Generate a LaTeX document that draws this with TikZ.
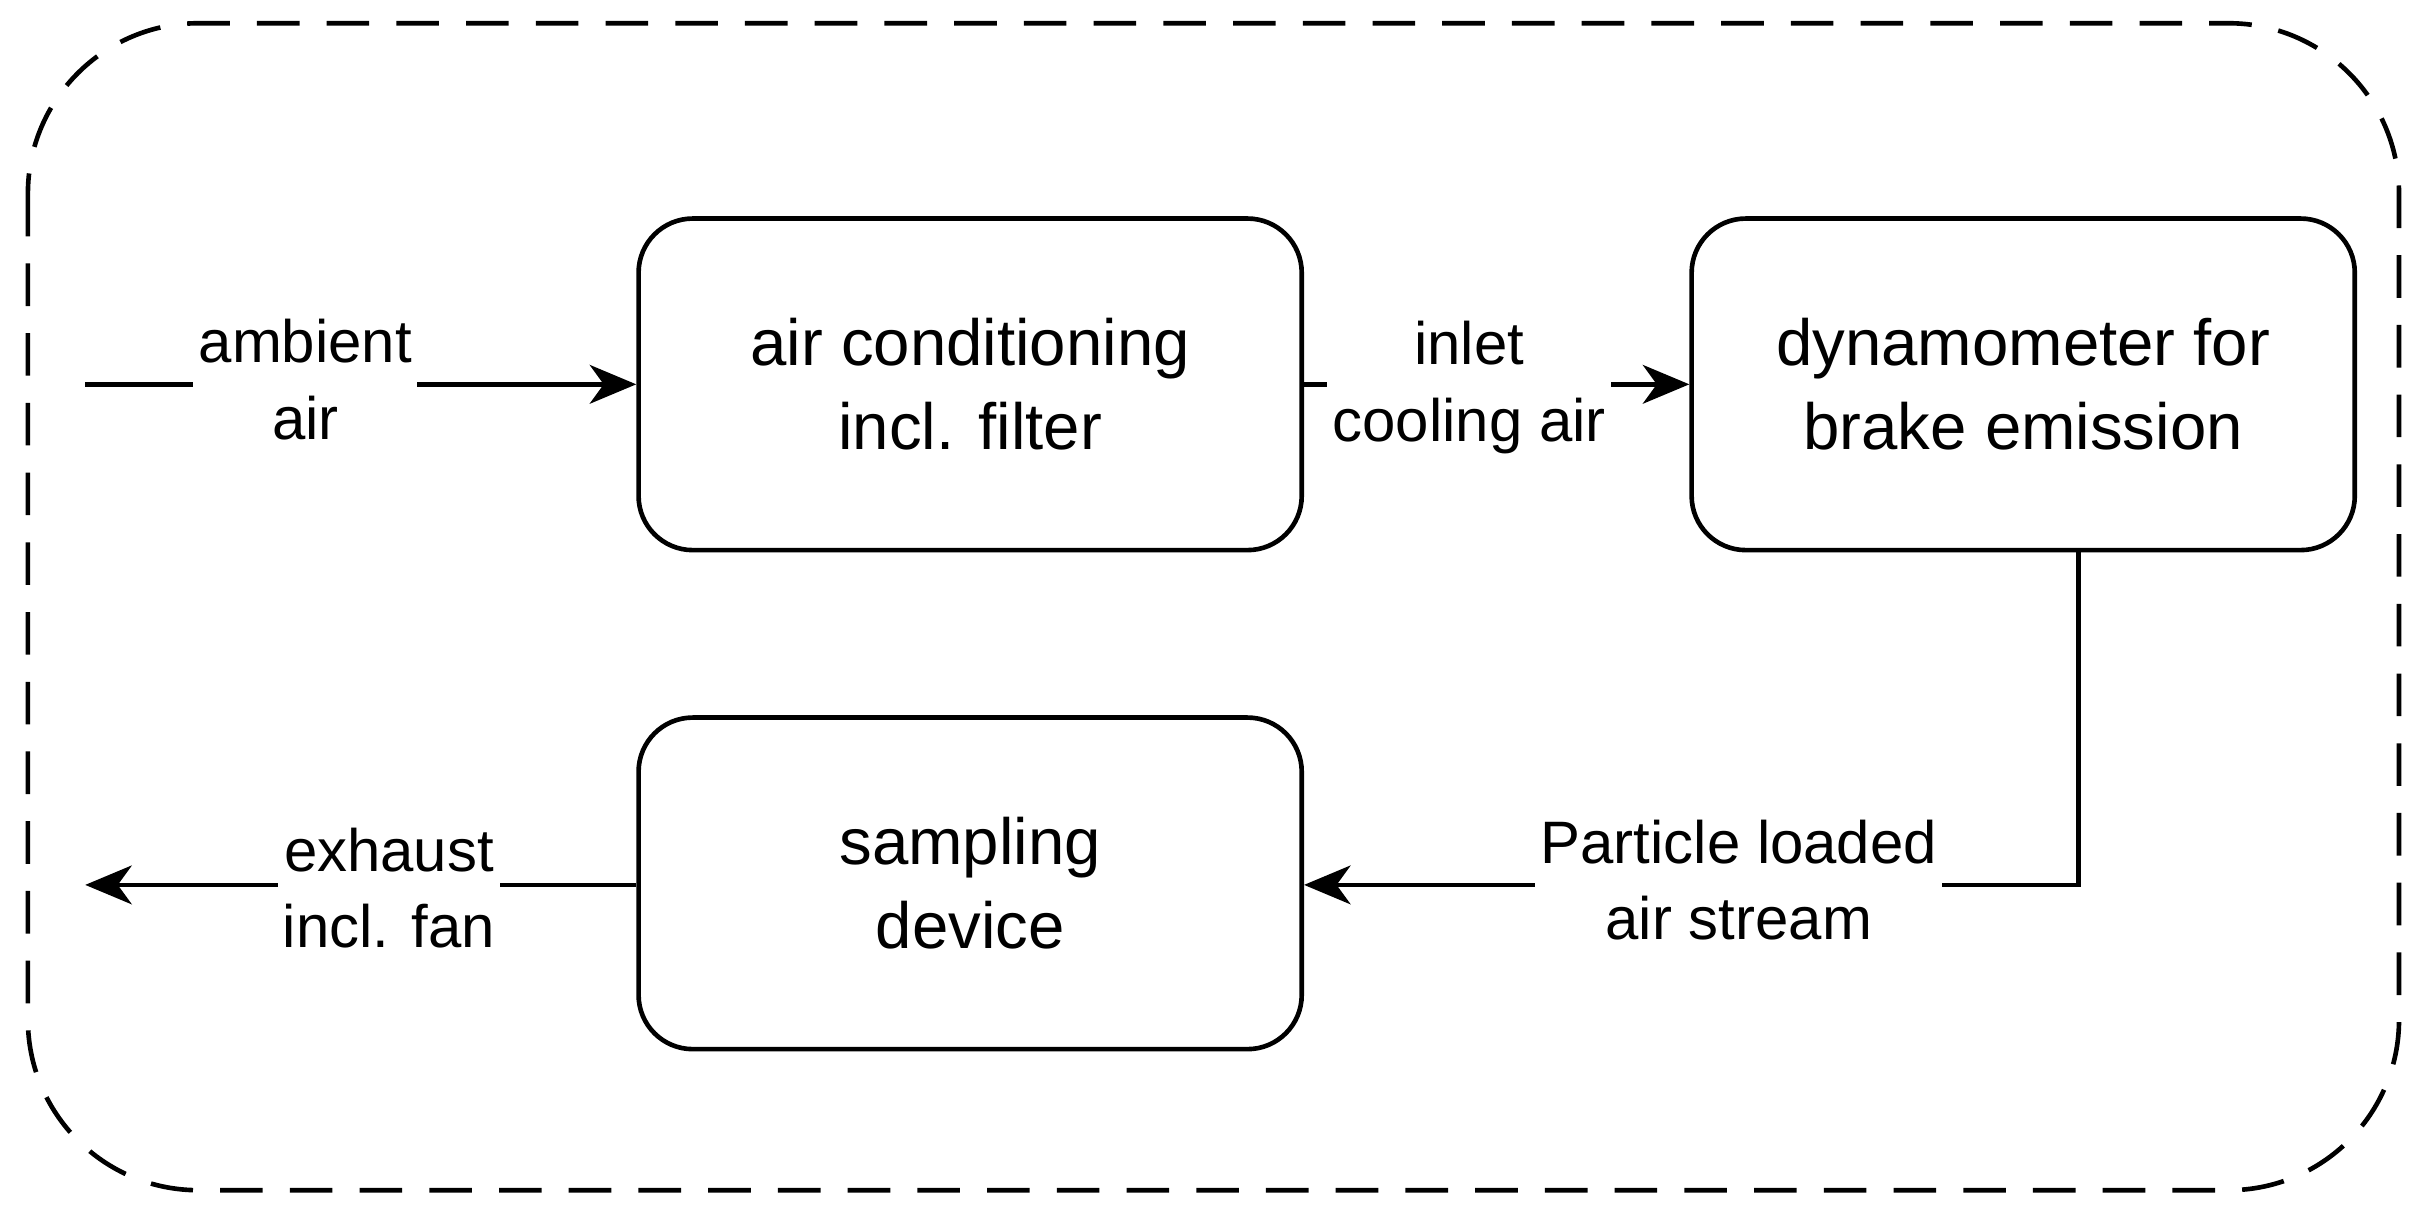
\documentclass[tikz,border=0pt]{standalone}
\usepackage{fontspec}
\setmainfont{Liberation Sans}
\usetikzlibrary{arrows.meta}
\begin{document}
\begin{tikzpicture}[x=0.02cm,y=-0.02cm,
 box/.style={draw,line width=1.7pt,rounded corners=0.7cm,minimum width=8.56cm,minimum height=4.28cm,align=center,font=\fontsize{24}{31}\selectfont},
 lbl/.style={fill=white,align=center,inner sep=2pt,font=\fontsize{22}{28}\selectfont},
 con/.style={line width=1.7pt},
 arr/.style={con,-{Stealth[length=0.6cm,width=0.5cm,inset=0.18cm]}}]
\useasboundingbox (0,0) rectangle (1568,782.7);
\draw[line width=1.7pt,dash pattern=on 0.55cm off 0.35cm,rounded corners=2.2cm] (18,15) rectangle (1548,768);
\node[box] (ac) at (626,248) {air conditioning\\incl. filter};
\node[box] (dyn) at (1305.5,248) {dynamometer for\\brake emission};
\node[box] (samp) at (626,570) {sampling\\device};
\coordinate (in) at (55,248);
\coordinate (out) at (55,571);
\coordinate (corner) at (1341,571);
\draw[arr] (in) -- (ac.west);
\node[lbl] (l1) at (197,245) {ambient\\air};
\draw[arr] (ac.east) -- (dyn.west);
\node[lbl] (l2) at (948,250) {inlet\\cooling air};
\draw[arr] (dyn.south -| corner) -- (corner) -- (samp.east |- corner);
\node[lbl] (l3) at (1122,568) {Particle loaded\\air stream};
\draw[arr] (samp.west |- out) -- (out);
\node[lbl] (l4) at (251,573) {exhaust\\incl. fan};
\end{tikzpicture}
\end{document}
